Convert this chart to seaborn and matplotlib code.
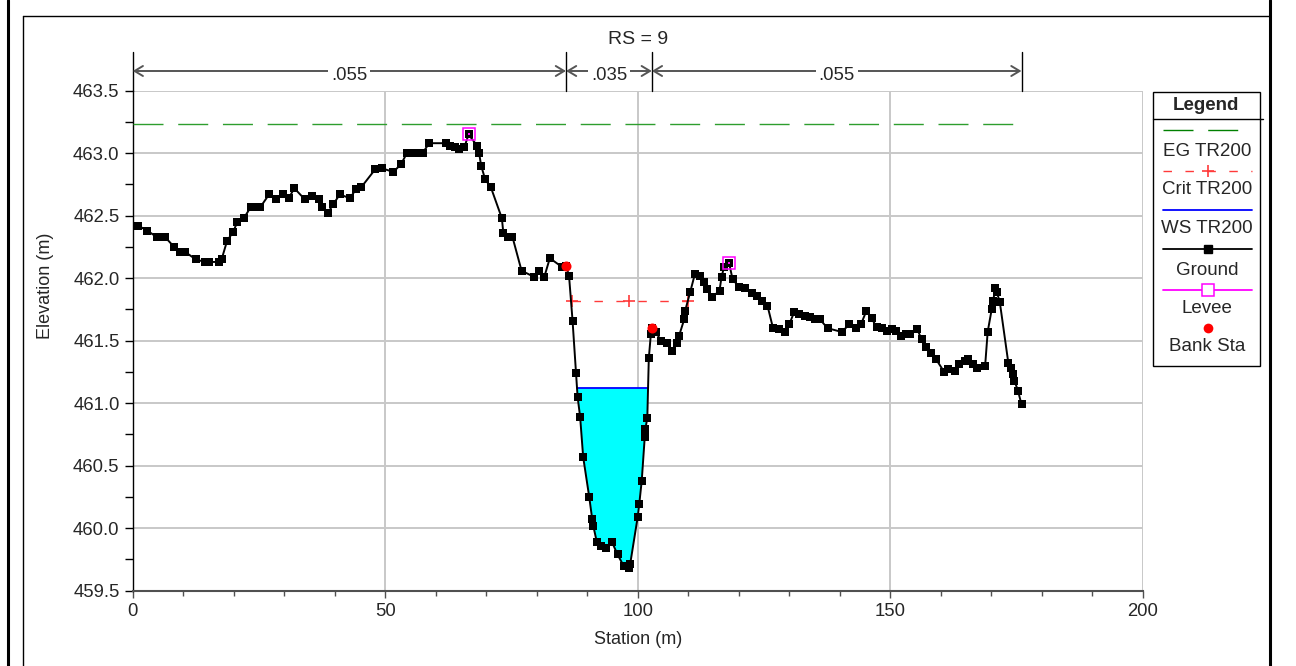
import numpy as np
import pandas as pd
import matplotlib
matplotlib.use("Agg")
import matplotlib.pyplot as plt
from matplotlib.lines import Line2D
from matplotlib.patches import Rectangle
import seaborn as sns

# ---------------- data ----------------
station = [0.1, 1.1, 2.9, 4.75, 6.4, 8.2, 9.4, 10.4, 12.5, 14.3, 15.2, 17.0, 17.6, 18.7, 19.9,
           20.7, 22.0, 23.4, 24.4, 25.3, 27.0, 28.3, 29.8, 30.9, 32.0, 34.1, 35.6, 36.9, 37.5,
           38.6, 39.7, 41.0, 43.0, 44.2, 45.3, 48.0, 49.3, 51.6, 53.1, 54.3, 55.3, 56.2, 57.4,
           58.7, 62.0, 62.8, 63.8, 64.7, 65.7, 66.5, 68.2, 68.6, 69.0, 69.8, 70.9, 73.1, 73.4,
           74.3, 75.2, 77.0, 79.5, 80.5, 81.5, 82.6, 85.0, 85.8, 86.4, 87.1, 87.8, 88.1, 88.6,
           89.2, 90.4, 91.0, 91.2, 91.9, 92.7, 93.7, 94.9, 96.0, 97.2, 98.2, 98.5, 100.0, 100.3,
           100.8, 101.4, 101.5, 101.9, 102.2, 102.6, 102.8, 103.6, 104.6, 105.8, 106.7, 107.7,
           108.2, 109.2, 109.4, 110.4, 111.3, 112.3, 113.1, 113.8, 114.8, 116.2, 116.6, 117.1,
           118.1, 118.8, 120.1, 121.2, 122.6, 123.6, 124.6, 125.7, 126.8, 128.0, 129.2, 130.0,
           131.0, 132.0, 133.1, 134.1, 135.1, 136.1, 137.6, 140.4, 141.9, 143.2, 144.2, 145.3,
           146.3, 147.3, 148.4, 149.4, 150.3, 151.1, 152.1, 153.1, 153.9, 155.4, 156.2, 157.1,
           158.0, 159.1, 160.7, 161.5, 162.8, 163.7, 164.8, 165.5, 166.3, 167.1, 168.8, 169.3,
           170.1, 170.4, 170.8, 171.1, 171.7, 173.4, 174.0, 174.4, 174.6, 175.3, 176.0]
elevation = [462.42, 462.42, 462.38, 462.33, 462.33, 462.25, 462.21, 462.21, 462.15, 462.13,
             462.13, 462.13, 462.15, 462.30, 462.37, 462.45, 462.48, 462.57, 462.57, 462.57,
             462.67, 462.63, 462.67, 462.64, 462.72, 462.63, 462.66, 462.63, 462.57, 462.52,
             462.59, 462.67, 462.64, 462.71, 462.73, 462.87, 462.88, 462.85, 462.91, 463.00,
             463.00, 463.00, 463.00, 463.08, 463.08, 463.06, 463.05, 463.03, 463.05, 463.15,
             463.06, 463.00, 462.90, 462.79, 462.73, 462.48, 462.36, 462.33, 462.33, 462.06,
             462.01, 462.06, 462.01, 462.16, 462.09, 462.10, 462.02, 461.66, 461.24, 461.05,
             460.89, 460.57, 460.25, 460.07, 460.02, 459.89, 459.86, 459.84, 459.89, 459.79,
             459.70, 459.68, 459.71, 460.09, 460.19, 460.38, 460.73, 460.79, 460.88, 461.36,
             461.55, 461.60, 461.57, 461.50, 461.48, 461.42, 461.48, 461.54, 461.67, 461.74,
             461.89, 462.03, 462.02, 461.97, 461.91, 461.85, 461.90, 462.01, 462.09, 462.12,
             461.99, 461.93, 461.92, 461.88, 461.86, 461.82, 461.78, 461.60, 461.59, 461.57,
             461.63, 461.73, 461.71, 461.70, 461.69, 461.67, 461.67, 461.60, 461.57, 461.63,
             461.60, 461.63, 461.74, 461.68, 461.61, 461.60, 461.58, 461.59, 461.58, 461.54,
             461.55, 461.55, 461.59, 461.51, 461.45, 461.40, 461.35, 461.25, 461.27, 461.26,
             461.31, 461.34, 461.35, 461.31, 461.28, 461.30, 461.57, 461.75, 461.82, 461.92,
             461.89, 461.81, 461.32, 461.28, 461.23, 461.18, 461.10, 460.99]

levee_station = [66.5, 118.1]
levee_elev = [463.15, 462.12]
bank_station = [85.8, 102.8]
bank_elev = [462.10, 461.60]

ws_elev = 461.12
eg_elev = 463.235
eg_station = [0.0, 176.0]
crit_station = [86.9, 98.2, 109.9]
crit_elev = 461.82

n_bounds = [0.0, 85.8, 102.8, 176.0]
n_values = [".055", ".035", ".055"]

title = "RS = 9"
xlabel = "Station (m)"
ylabel = "Elevation (m)"
x_ticks = [0, 50, 100, 150, 200]
y_ticks = [459.5, 460.0, 460.5, 461.0, 461.5, 462.0, 462.5, 463.0, 463.5]
legend_labels = ["EG TR200", "Crit TR200", "WS TR200", "Ground", "Levee", "Bank Sta"]

# ---------------- style ----------------
sns.set_style("white")
plt.rcParams["font.family"] = ["Liberation Sans", "DejaVu Sans"]

W, H = 1296, 666
fig = plt.figure(figsize=(W / 100, H / 100), dpi=100)

def fx(px):
    return px / W

def fy(py):
    return 1 - py / H

ax_l, ax_r, ax_t, ax_b = 132.7, 1142.7, 90.7, 590.7
ax = fig.add_axes([fx(ax_l), fy(ax_b), fx(ax_r) - fx(ax_l), fy(ax_t) - fy(ax_b)])
ax.set_xlim(0, 200)
ax.set_ylim(459.5, 463.5)

df = pd.DataFrame({"station": station, "elev": elevation})
st = np.array(station)
el = np.array(elevation)

# water fill
cross = [i for i in range(len(st) - 1)
         if (el[i] - ws_elev) * (el[i + 1] - ws_elev) < 0 and 80 < st[i] < 110]
i0, i1 = cross[0], cross[-1]
xl = st[i0] + (ws_elev - el[i0]) * (st[i0 + 1] - st[i0]) / (el[i0 + 1] - el[i0])
xr = st[i1] + (ws_elev - el[i1]) * (st[i1 + 1] - st[i1]) / (el[i1 + 1] - el[i1])
poly_x = [xl] + list(st[i0 + 1:i1 + 1]) + [xr]
poly_y = [ws_elev] + list(el[i0 + 1:i1 + 1]) + [ws_elev]
ax.fill(poly_x, poly_y, color="#00ffff", zorder=2, lw=0)
ax.plot([xl, xr], [ws_elev, ws_elev], color="blue", lw=1.3, zorder=3)

# EG line
ax.plot(eg_station, [eg_elev, eg_elev], color="#2e9e2e", lw=1, dashes=(21.6, 10.6), zorder=3)

# Crit line
ax.plot(crit_station, [crit_elev] * len(crit_station), color="#ff3a3a", lw=1,
        dashes=(6.1, 9.7), marker="+", markersize=8, markeredgewidth=1.2, zorder=3)

# Ground
sns.lineplot(data=df, x="station", y="elev", sort=False, estimator=None, color="black",
             lw=1.4, marker="s", markersize=6, markeredgewidth=0, ax=ax, zorder=4)

# Levee
ax.plot(levee_station, levee_elev, ls="none", marker="s", markersize=8.5,
        markerfacecolor="none", markeredgecolor="magenta", markeredgewidth=1.1, zorder=5)
ax.plot(levee_station, levee_elev, ls="none", marker="s", markersize=1.5,
        markerfacecolor="magenta", markeredgewidth=0, zorder=6)

# Bank stations
sns.scatterplot(x=bank_station, y=bank_elev, color="red", s=52, linewidth=0, ax=ax, zorder=6)

ax.set_xlabel("")
ax.set_ylabel("")

# axes styling
ax.set_xticks(x_ticks)
ax.set_xticklabels([str(v) for v in x_ticks])
ax.set_xticks(np.arange(0, 201, 10), minor=True)
ax.set_yticks(y_ticks)
ax.set_yticklabels([f"{v:.1f}" for v in y_ticks])
ax.set_yticks(np.arange(459.5, 463.51, 0.25), minor=True)
ax.grid(True, which="major", color="#c8c8c8", lw=1.4, zorder=0)
ax.set_axisbelow(True)
for s in ["top", "right"]:
    ax.spines[s].set_visible(False)
ax.spines["left"].set_color("black")
ax.spines["left"].set_linewidth(1)
ax.spines["bottom"].set_color("#505050")
ax.spines["bottom"].set_linewidth(1.5)
ax.tick_params(axis="x", which="major", direction="out", length=5, width=1, color="#505050",
               labelsize=13.3, pad=4, bottom=True)
ax.tick_params(axis="x", which="minor", direction="out", length=3.5, width=1, color="#505050",
               bottom=True)
ax.tick_params(axis="y", which="major", direction="out", length=5.5, width=1, color="black",
               labelsize=13.3, pad=4, left=True)
ax.tick_params(axis="y", which="minor", direction="out", length=5.5, width=1, color="black",
               left=True)

fig.text(fx(45), fy(286), ylabel, rotation=90, ha="center", va="center", fontsize=13)
fig.text(fx(637.7), fy(640), xlabel, ha="center", va="center", fontsize=13)
fig.text(fx(637.7), fy(40), title, ha="center", va="center", fontsize=14)

# Manning's n brackets
trans = ax.get_xaxis_transform()
y_top = (ax_b - 51.7) / (ax_b - ax_t)
y_arr = (ax_b - 71) / (ax_b - ax_t)
y_txt = (ax_b - 75) / (ax_b - ax_t)
for b in n_bounds:
    ax.plot([b, b], [1.0, y_top], color="black", lw=1, transform=trans, clip_on=False)
for i, nv in enumerate(n_values):
    a, b = n_bounds[i], n_bounds[i + 1]
    ax.annotate("", xy=(b, y_arr), xytext=(a, y_arr), xycoords=trans, textcoords=trans,
                arrowprops=dict(arrowstyle="<->,head_length=0.5,head_width=0.3",
                                color="#555555", lw=1.4, shrinkA=0, shrinkB=0,
                                mutation_scale=12), annotation_clip=False)
    ax.text((a + b) / 2, y_txt, nv, transform=trans, ha="center", va="center", fontsize=13.3,
            bbox=dict(facecolor="white", edgecolor="none", pad=2), clip_on=False, zorder=10)

# page frame
fig.add_artist(Line2D([fx(8), fx(8)], [0, 1], color="black", lw=2.2, transform=fig.transFigure))
fig.add_artist(Line2D([fx(1270), fx(1270)], [0, 1], color="black", lw=2.2, transform=fig.transFigure))
fig.add_artist(Line2D([fx(22.7), fx(22.7)], [0, fy(15.7)], color="black", lw=1, transform=fig.transFigure))
fig.add_artist(Line2D([fx(22.7), fx(1270)], [fy(15.7), fy(15.7)], color="black", lw=1, transform=fig.transFigure))

# legend
lx0, lx1, ly0, ly1 = 1152.5, 1260, 91.7, 366
fig.add_artist(Rectangle((fx(lx0), fy(ly1)), fx(lx1) - fx(lx0), fy(ly0) - fy(ly1),
                         facecolor="white", edgecolor="black", lw=1, transform=fig.transFigure))
fig.add_artist(Line2D([fx(lx0), fx(1262.7)], [fy(119), fy(119)], color="black", lw=1,
                      transform=fig.transFigure))
cx = (lx0 + lx1) / 2
fig.text(fx(cx), fy(105), "Legend", ha="center", va="center", fontsize=13.5, fontweight="bold")
lxa, lxb, mx = 1163, 1252, 1208
line_y = [130, 170.7, 210, 249.3, 290, 327.7]
text_y = [151, 190, 228, 270, 309, 346.7]
fig.add_artist(Line2D([fx(lxa), fx(lxb)], [fy(line_y[0])] * 2, color="green", lw=1,
                      dashes=(21.6, 10.6), transform=fig.transFigure))
fig.add_artist(Line2D([fx(lxa), fx(lxb)], [fy(line_y[1])] * 2, color="#ff3a3a", lw=1,
                      dashes=(6.1, 9.7), transform=fig.transFigure))
fig.add_artist(Line2D([fx(mx)], [fy(line_y[1])], color="#ff3a3a", marker="+", markersize=8,
                      markeredgewidth=1.2, ls="none", transform=fig.transFigure))
fig.add_artist(Line2D([fx(lxa), fx(lxb)], [fy(line_y[2])] * 2, color="blue", lw=1.3,
                      transform=fig.transFigure))
fig.add_artist(Line2D([fx(lxa), fx(lxb)], [fy(line_y[3])] * 2, color="black", lw=1.3,
                      transform=fig.transFigure))
fig.add_artist(Line2D([fx(mx)], [fy(line_y[3])], color="black", marker="s", markersize=6,
                      ls="none", transform=fig.transFigure))
fig.add_artist(Line2D([fx(lxa), fx(lxb)], [fy(line_y[4])] * 2, color="magenta", lw=1.3,
                      transform=fig.transFigure))
fig.add_artist(Line2D([fx(mx)], [fy(line_y[4])], marker="s", markersize=8.5, markerfacecolor="white",
                      markeredgecolor="magenta", markeredgewidth=1.1, ls="none",
                      transform=fig.transFigure))
fig.add_artist(Line2D([fx(mx)], [fy(line_y[5])], marker="o", markersize=7, color="red",
                      markeredgewidth=0, ls="none", transform=fig.transFigure))
for lab, ty in zip(legend_labels, text_y):
    fig.text(fx(cx + 1), fy(ty), lab, ha="center", va="center", fontsize=13.5)

fig.savefig("out.png", dpi=100)
